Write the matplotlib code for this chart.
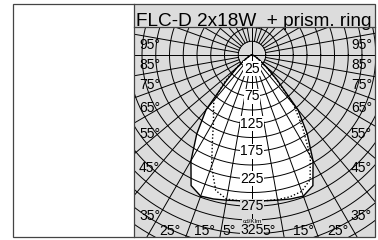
import numpy as np
import matplotlib
matplotlib.use("Agg")
import matplotlib.pyplot as plt
from matplotlib.patches import Rectangle, Polygon

# ---------------- data ----------------
title = "FLC-D 2x18W  + prism. ring"
gamma_deg = [0, 5, 10, 15, 20, 25, 30, 35, 40, 45, 50, 55, 60, 65, 70, 75, 80, 85, 90]
# solid curve (C0-C180), cd/klm, symmetric
solid_cd = [265, 266, 268, 271, 273, 262, 222, 175, 130, 65, 35, 18, 10, 6, 4, 3, 2, 1, 0]
# dotted curve (C90-C270), left and right halves
dotted_left_cd = [265, 266, 266, 255, 215, 170, 140, 122, 108, 72, 40, 21, 11, 6, 4, 3, 2, 1, 0]
dotted_right_cd = [265, 266, 267, 267, 264, 250, 212, 160, 118, 62, 34, 18, 10, 6, 4, 3, 2, 1, 0]
intensity_labels = [25, 75, 125, 175, 225, 275, 325]
side_angle_labels = [95, 85, 75, 65, 55, 45, 35]
bottom_angle_labels = [25, 15, 5]
ring_step = 25
spoke_step = 10
unit_label = "cd/Klm"

# ---------------- layout (pixels) ----------------
W, H = 378, 240
S = 0.55               # px per cd/klm
CX, CY = 252, 55       # polar centre in px
BOX_L, BOX_R, BOX_T, BOX_B = 13, 375, 4, 237
DIV_X = 134
TITLE_B = 27
GRAY = "#dcdcdc"

plt.rcParams["font.family"] = ["Liberation Sans", "DejaVu Sans"]
fig = plt.figure(figsize=(W / 100, H / 100), dpi=100)
fig.patch.set_facecolor("white")

def fx(x):
    return x / W

def fy(y):
    return 1 - y / H

fig.add_artist(Rectangle((fx(DIV_X), fy(BOX_B)), fx(BOX_R) - fx(DIV_X), fy(BOX_T) - fy(BOX_B),
                         transform=fig.transFigure, facecolor=GRAY, edgecolor="none", zorder=-5))

ax = fig.add_axes([fx(DIV_X), fy(BOX_B), fx(BOX_R) - fx(DIV_X), fy(TITLE_B) - fy(BOX_B)])
ax.set_zorder(1)
ax.set_xlim((DIV_X - CX) / S, (BOX_R - CX) / S)
ax.set_ylim(-(BOX_B - CY) / S, (CY - TITLE_B) / S)
ax.set_aspect("auto")
ax.axis("off")

def polar_xy(g_deg, r):
    gg = np.radians(np.asarray(g_deg, dtype=float))
    r = np.asarray(r, dtype=float)
    return r * np.sin(gg), -r * np.cos(gg)

g = np.array(gamma_deg, dtype=float)

# white fill inside the solid curve
sx = np.concatenate([-g[::-1], g[1:]])
sr = np.concatenate([np.array(solid_cd)[::-1], np.array(solid_cd)[1:]])
px, py = polar_xy(sx, sr)
ax.add_patch(Polygon(np.column_stack([px, py]), closed=True, facecolor="white", edgecolor="none", zorder=1))

# grid rings
rmax = 420
t = np.linspace(0, 2 * np.pi, 721)
for r in np.arange(ring_step, rmax, ring_step):
    ax.plot(r * np.cos(t), r * np.sin(t), color="black", lw=0.7, zorder=2)

# radial lines
for a in range(0, 181, spoke_step):
    r0 = 0 if a in (0, 90, 180) else ring_step
    for sgn in (1, -1):
        xs, ys = polar_xy([sgn * a, sgn * a], [r0, rmax])
        ax.plot(xs, ys, color="black", lw=0.7, zorder=2)

# curves
ax.plot(px, py, color="black", lw=1.0, zorder=3)
dx_ = np.concatenate([-g[::-1], g[1:]])
dr_ = np.concatenate([np.array(dotted_left_cd)[::-1], np.array(dotted_right_cd)[1:]])
qx, qy = polar_xy(dx_, dr_)
ax.plot(qx, qy, color="black", lw=1.0, ls=(0, (1, 1.5)), zorder=3)

# intensity labels along the axis
ymin_label = -(230 - CY) / S
for v in intensity_labels:
    yv = max(-v, ymin_label)
    fc = "white" if v < 260 else GRAY
    ax.text(0, yv, str(v), ha="center", va="center", fontsize=10, zorder=5,
            bbox=dict(boxstyle="square,pad=0.05", facecolor=fc, edgecolor="none"))
ax.text(0, -(221.5 - CY) / S, unit_label, ha="center", va="center", fontsize=4.6, zorder=5,
        bbox=dict(boxstyle="square,pad=0.05", facecolor=GRAY, edgecolor="none"))

# side angle labels
xl = (139 - CX) / S
xr = (372 - CX) / S
for a in side_angle_labels:
    yy = -abs(xl) / np.tan(np.radians(a))
    ax.text(xl, yy, f"{a}°", ha="left", va="center", fontsize=10, zorder=5)
    ax.text(xr, yy, f"{a}°", ha="right", va="center", fontsize=10, zorder=5)

# bottom angle labels
yb = -(231 - CY) / S
for a in bottom_angle_labels:
    xx = abs(yb) * np.tan(np.radians(a))
    shift_l = 13 if a == 5 else 0
    shift_r = 4 if a == 5 else 7
    ax.text(-xx - shift_l, yb, f"{a}°", ha="center", va="center", fontsize=10, zorder=5)
    ax.text(xx + shift_r, yb, f"{a}°", ha="center", va="center", fontsize=10, zorder=5)

# title
fig.text(fx(136), fy(25.5), title, ha="left", va="baseline", fontsize=13.7, color="black", zorder=5)

# frame lines
lc = "#444444"
fig.add_artist(Rectangle((fx(BOX_L), fy(BOX_B)), fx(BOX_R) - fx(BOX_L), fy(BOX_T) - fy(BOX_B),
                         transform=fig.transFigure, facecolor="none", edgecolor=lc, lw=0.9, zorder=10))
fig.add_artist(plt.Line2D([fx(DIV_X), fx(DIV_X)], [fy(BOX_B), fy(BOX_T)], transform=fig.transFigure,
                          color=lc, lw=0.9, zorder=10))
fig.add_artist(plt.Line2D([fx(DIV_X), fx(BOX_R)], [fy(TITLE_B), fy(TITLE_B)], transform=fig.transFigure,
                          color=lc, lw=0.9, zorder=10))

fig.savefig("out.png", dpi=100)
